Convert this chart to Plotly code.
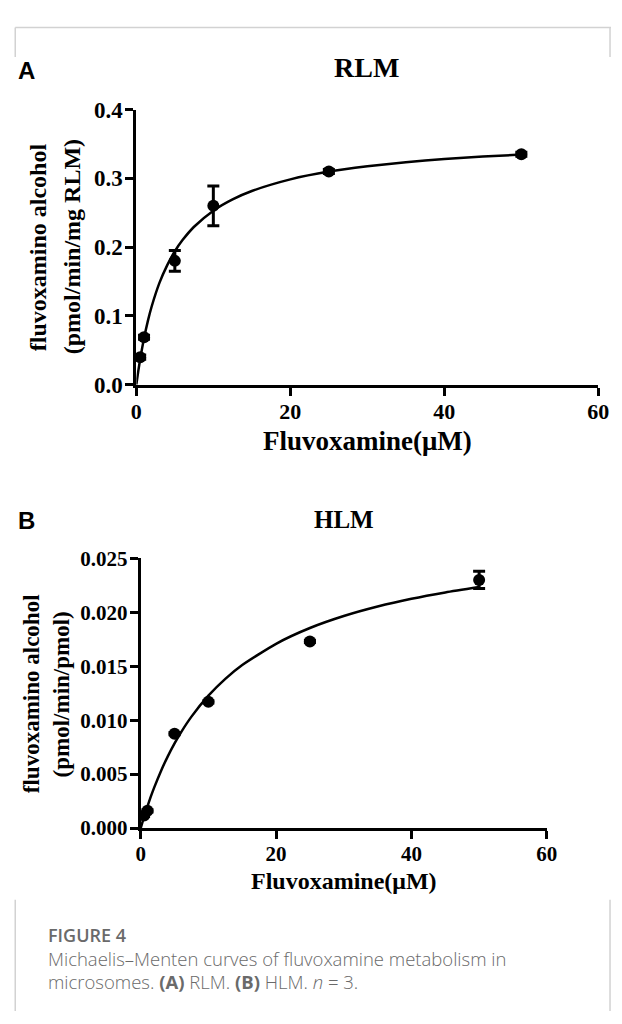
import plotly.graph_objects as go

# ---------------- data ----------------
# Panel A: RLM
rlm_conc = [0.5, 1, 5, 10, 25, 50]
rlm_rate = [0.040, 0.069, 0.180, 0.260, 0.310, 0.335]
rlm_err = [0.003, 0.003, 0.015, 0.029, 0.003, 0.003]
# fitted Michaelis-Menten curve
rlm_fit_x = [0, 0.25, 0.5, 1, 1.5, 2, 3, 4, 5, 6, 7.5, 10, 12.5, 15, 20, 25, 30, 35, 40, 45, 50]
rlm_fit_y = [0, 0.0196, 0.0372, 0.0675, 0.0927, 0.114, 0.148, 0.1735, 0.194, 0.2102, 0.2296,
             0.253, 0.2694, 0.2816, 0.2985, 0.3099, 0.3175, 0.3234, 0.328, 0.3316, 0.3346]

# Panel B: HLM
hlm_conc = [0.5, 1, 5, 10, 25, 50]
hlm_rate = [0.00117, 0.0016, 0.00875, 0.0117, 0.0173, 0.0230]
hlm_err = [0.0001, 0.0001, 0.0001, 0.0001, 0.0001, 0.0008]
hlm_fit_x = [0, 0.25, 0.5, 1, 1.5, 2, 3, 4, 5, 6, 7.5, 10, 12.5, 15, 20, 25, 30, 35, 40, 45, 50]
hlm_fit_y = [0, 0.000534, 0.00105, 0.00202, 0.00293, 0.00377, 0.0053, 0.00665, 0.00785, 0.00892,
             0.01033, 0.01227, 0.01383, 0.01511, 0.01708, 0.01854, 0.01965, 0.02053, 0.02125,
             0.02184, 0.02234]

x_ticks = [0, 20, 40, 60]
rlm_yticks = [0.0, 0.1, 0.2, 0.3, 0.4]
hlm_yticks = [0.000, 0.005, 0.010, 0.015, 0.020, 0.025]

# ---------------- figure ----------------
W, H = 622, 1024
SERIF = "Liberation Serif"


def px(v):
    return v / W


def py(v):
    return 1 - v / H


fig = go.Figure()

fig.add_trace(go.Scatter(x=rlm_fit_x, y=rlm_fit_y, mode="lines",
                         line=dict(color="black", width=2.5, shape="spline", smoothing=0.6),
                         xaxis="x", yaxis="y", showlegend=False, cliponaxis=False,
                         hoverinfo="skip"))
fig.add_trace(go.Scatter(x=rlm_conc, y=rlm_rate, mode="markers",
                         marker=dict(color="black", size=12),
                         error_y=dict(type="data", array=rlm_err, color="black",
                                      thickness=3, width=6),
                         xaxis="x", yaxis="y", showlegend=False, cliponaxis=False))

fig.add_trace(go.Scatter(x=hlm_fit_x, y=hlm_fit_y, mode="lines",
                         line=dict(color="black", width=2.5, shape="spline", smoothing=0.6),
                         xaxis="x2", yaxis="y2", showlegend=False, cliponaxis=False,
                         hoverinfo="skip"))
fig.add_trace(go.Scatter(x=hlm_conc, y=hlm_rate, mode="markers",
                         marker=dict(color="black", size=12),
                         error_y=dict(type="data", array=hlm_err, color="black",
                                      thickness=3, width=6),
                         xaxis="x2", yaxis="y2", showlegend=False, cliponaxis=False))

axis_common = dict(showgrid=False, zeroline=False, showline=True, linecolor="black",
                   linewidth=3, ticks="outside", ticklen=8, tickwidth=3, tickcolor="black",
                   fixedrange=True)

fig.update_layout(
    width=W, height=H, autosize=False,
    margin=dict(l=0, r=0, t=0, b=0, pad=0),
    paper_bgcolor="white", plot_bgcolor="white",
    xaxis=dict(domain=[px(134), px(609)], range=[0, 60], tickvals=x_ticks,
               ticktext=[str(v) for v in x_ticks], anchor="y", ticklabelstandoff=-3,
               tickfont=dict(family=SERIF, size=22, color="black", weight="bold"),
               **axis_common),
    yaxis=dict(domain=[py(382), py(100)], range=[0, 0.4], tickvals=rlm_yticks,
               ticktext=[f"{v:.1f}" for v in rlm_yticks], anchor="x", ticklabelstandoff=-2,
               tickfont=dict(family=SERIF, size=23, color="black", weight="bold"),
               **axis_common),
    xaxis2=dict(domain=[px(138.5), px(556)], range=[0, 60], tickvals=x_ticks,
                ticktext=[str(v) for v in x_ticks], anchor="y2", ticklabelstandoff=-3,
                tickfont=dict(family=SERIF, size=21, color="black", weight="bold"),
                **axis_common),
    yaxis2=dict(domain=[py(836.5), py(560)], range=[0, 0.025], tickvals=hlm_yticks,
                ticktext=[f"{v:.3f}" for v in hlm_yticks], anchor="x2", ticklabelstandoff=-2,
                tickfont=dict(family=SERIF, size=21, color="black", weight="bold"),
                **axis_common),
)

ann = []


def add_text(text, x, y, size, family=SERIF, color="black", xanchor="center",
             yanchor="middle", angle=0, weight="bold", align="center"):
    ann.append(dict(text=text, x=px(x), y=py(y), xref="paper", yref="paper",
                    showarrow=False, xanchor=xanchor, yanchor=yanchor, textangle=angle,
                    align=align,
                    font=dict(family=family, size=size, color=color, weight=weight)))


# panel letters
add_text("A", 10, 60, 24, family="Liberation Sans", xanchor="left")
add_text("B", 10, 521, 24, family="Liberation Sans", xanchor="left")
# titles
add_text("RLM", 371, 57, 28)
add_text("HLM", 347, 520, 25)
# axis titles
add_text("Fluvoxamine(μM)", 372, 440, 27)
add_text("Fluvoxamine(μM)", 347, 891, 24)
add_text("fluvoxamino alcohol", 33, 241, 24, angle=-90)
add_text("(pmol/min/mg RLM)", 68, 241, 24, angle=-90)
add_text("fluvoxamino alcohol", 27, 699, 23, angle=-90)
add_text("(pmol/min/pmol)", 57, 699, 23, angle=-90)
# caption
CAP = "#6a6a6a"
add_text("FIGURE 4", 41, 946, 18, family="Open Sans", color=CAP, xanchor="left",
         weight=600)
add_text("Michaelis–Menten curves of fluvoxamine metabolism in", 41, 970, 18.5,
         family="Open Sans", color=CAP, xanchor="left", weight=300)
add_text("microsomes. <b>(A)</b> RLM. <b>(B)</b> HLM. <i>n</i> = 3.", 41, 994, 18.5,
         family="Open Sans", color=CAP, xanchor="left", weight=300)

fig.update_layout(annotations=ann)

# light frame lines of the page
FRAME = "#d2d2d2"
shapes = []
for (x0, y0, x1, y1) in [(9.5, 16, 622, 16), (9.5, 16, 9.5, 46), (621, 16, 621, 46),
                         (9.5, 910, 9.5, 1024), (621, 910, 621, 1024)]:
    shapes.append(dict(type="line", xref="paper", yref="paper", x0=px(x0), y0=py(y0),
                       x1=px(x1), y1=py(y1), line=dict(color=FRAME, width=1.5)))
fig.update_layout(shapes=shapes)

fig.write_html("out.html")
